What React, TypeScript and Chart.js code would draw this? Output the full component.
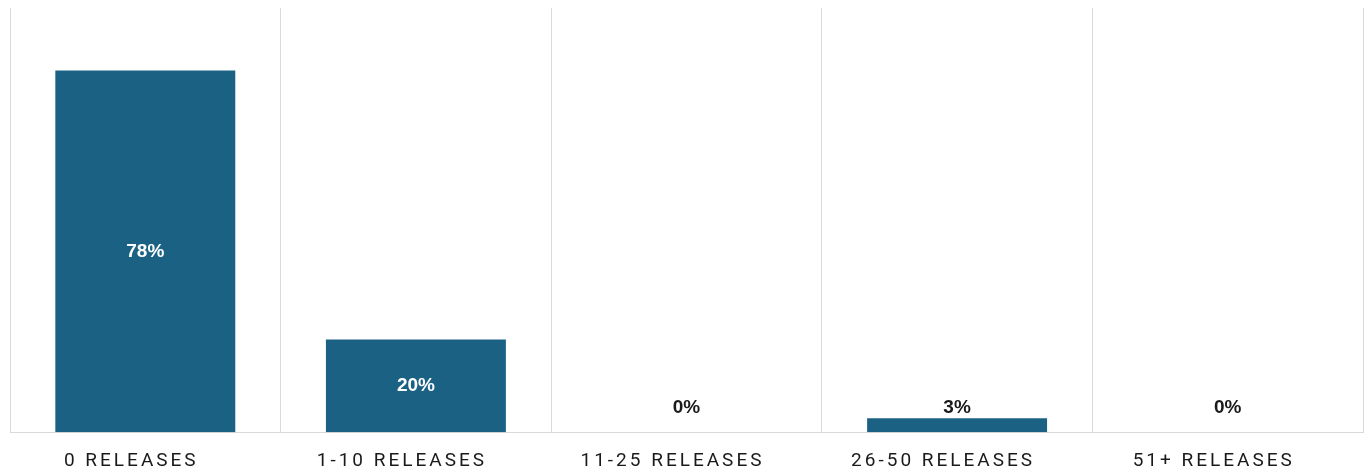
import React, { useEffect, useRef } from "react";
import { Chart, registerables } from "chart.js";

Chart.register(...registerables);

const categories = ["0 RELEASES", "1-10 RELEASES", "11-25 RELEASES", "26-50 RELEASES", "51+ RELEASES"];
const values = [78, 20, 0, 3, 0];
const valueLabels = ["78%", "20%", "0%", "3%", "0%"];

const BAR_COLOR = "#1a6184";
const GRID_COLOR = "#d9d9d9";

const spacingPlugin = {
  id: "tickSpacing",
  beforeDraw(chart: any) {
    (chart.ctx as any).letterSpacing = "3px";
  },
  beforeDatasetsDraw(chart: any) {
    (chart.ctx as any).letterSpacing = "0px";
  },
};

const labelPlugin = {
  id: "valueLabels",
  afterDatasetsDraw(chart: any) {
    const ctx = chart.ctx;
    const meta = chart.getDatasetMeta(0);
    const base = chart.scales.y.getPixelForValue(0);
    ctx.save();
    (ctx as any).letterSpacing = "0px";
    ctx.font = "bold 19px 'Liberation Sans', Arial, sans-serif";
    ctx.textAlign = "center";
    ctx.textBaseline = "middle";
    meta.data.forEach((bar: any, i: number) => {
      const h = base - bar.y;
      let y: number;
      if (h > 40) {
        ctx.fillStyle = "#ffffff";
        y = (bar.y + base) / 2;
      } else {
        ctx.fillStyle = "#1a1a1a";
        y = Math.min(bar.y - 10, base - 24);
      }
      ctx.fillText(valueLabels[i], bar.x, y);
    });
    ctx.restore();
  },
};

export default function App() {
  const ref = useRef<HTMLCanvasElement | null>(null);

  useEffect(() => {
    if (!ref.current) return;
    const chart = new Chart(ref.current, {
      type: "bar",
      data: {
        labels: categories,
        datasets: [
          {
            data: values,
            backgroundColor: BAR_COLOR,
            borderWidth: 0,
            categoryPercentage: 1,
            barPercentage: 0.665,
          },
        ],
      },
      options: {
        animation: false,
        responsive: false,
        maintainAspectRatio: false,
        devicePixelRatio: 1,
        layout: { padding: { left: 10, right: 4, top: 8, bottom: -19 } },
        plugins: {
          legend: { display: false },
          tooltip: { enabled: false },
        },
        scales: {
          x: {
            offset: true,
            grid: {
              offset: true,
              display: true,
              color: GRID_COLOR,
              lineWidth: 1,
              drawTicks: false,
            },
            border: { display: true, color: GRID_COLOR },
            ticks: {
              color: "#1a1a1a",
              padding: 18,
              labelOffset: -14,
              maxRotation: 0,
              font: { family: "Roboto, 'Noto Sans', sans-serif", size: 19 },
            },
          },
          y: {
            display: false,
            min: 0,
            max: 91.5,
          },
        },
      },
      plugins: [spacingPlugin, labelPlugin],
    });
    return () => chart.destroy();
  }, []);

  return (
    <div style={{ position: "fixed", left: 0, top: 0, width: 1367, height: 472, background: "#fff" }}>
      <canvas ref={ref} width={1367} height={472} style={{ width: 1367, height: 472, display: "block" }} />
    </div>
  );
}
